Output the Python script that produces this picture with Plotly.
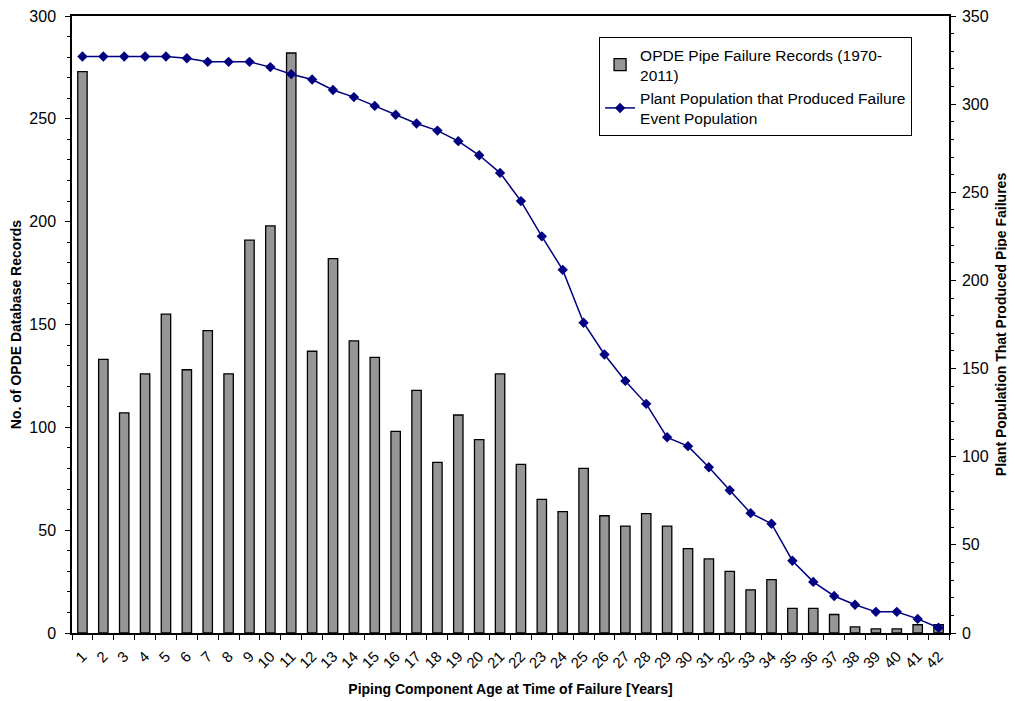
import plotly.graph_objects as go

ages = [str(i) for i in range(1, 43)]
failure_records = [273, 133, 107, 126, 155, 128, 147, 126, 191, 198,
                   282, 137, 182, 142, 134, 98, 118, 83, 106, 94,
                   126, 82, 65, 59, 80, 57, 52, 58, 52, 41,
                   36, 30, 21, 26, 12, 12, 9, 3, 2, 2,
                   4, 4]
plant_population = [327, 327, 327, 327, 327, 326, 324, 324, 324, 321,
                     317, 314, 308, 304, 299, 294, 289, 285, 279, 271,
                     261, 245, 225, 206, 176, 158, 143, 130, 111, 106,
                     94, 81, 68, 62, 41, 29, 21, 16, 12, 12,
                     8, 3]

FONT = "Liberation Sans, Arial, sans-serif"

fig = go.Figure()
fig.add_trace(go.Bar(
    x=ages, y=failure_records,
    name="OPDE Pipe Failure Records (1970-<br>2011)",
    marker=dict(color="#969696", line=dict(color="#000000", width=1.3)),
    width=0.45,
))
fig.add_trace(go.Scatter(
    x=ages, y=plant_population, yaxis="y2",
    name="Plant Population that Produced Failure<br>Event Population",
    mode="lines+markers",
    line=dict(color="#000080", width=1.5),
    marker=dict(symbol="diamond", size=8, color="#000080"),
))

# page body has an 8px margin, so the figure is offset by 8px
fig.update_layout(
    width=1007, height=693,
    margin=dict(l=64, r=66, t=8, b=68),
    paper_bgcolor="white", plot_bgcolor="white",
    font=dict(family=FONT, size=15, color="#000000"),
    showlegend=True,
    legend=dict(
        x=0.601, y=0.966, xanchor="left", yanchor="top",
        bgcolor="white", bordercolor="#000000", borderwidth=1,
        font=dict(family=FONT, size=15.5, color="#000000"),
        tracegroupgap=10,
    ),
    xaxis=dict(
        type="category",
        range=[-0.5, 41.5],
        automargin=False,
        tickangle=-45,
        tickson="boundaries",
        ticks="outside", ticklen=5, tickcolor="#000000",
        showline=True, linecolor="#000000", linewidth=1.5, mirror=True,
        showgrid=False, zeroline=False,
        ticklabelstandoff=7,
        tickfont=dict(family=FONT, size=15),
        title=dict(text="<b>Piping Component Age at Time of Failure [Years]</b>",
                   font=dict(family=FONT, size=14), standoff=14),
    ),
    yaxis=dict(
        range=[0, 300], dtick=50,
        automargin=False,
        ticklabeloverflow="allow",
        ticks="outside", ticklen=5, tickcolor="#000000",
        minor=dict(dtick=10, ticks="outside", ticklen=3, tickcolor="#000000"),
        showline=True, linecolor="#000000", linewidth=1.5,
        showgrid=False, zeroline=False,
        ticklabelstandoff=6,
        tickfont=dict(family=FONT, size=16),
        title=dict(text="<b>No. of OPDE Database Records</b>",
                   font=dict(family=FONT, size=14), standoff=4),
    ),
    yaxis2=dict(
        range=[0, 350], dtick=50,
        automargin=False,
        ticklabeloverflow="allow",
        overlaying="y", side="right",
        ticks="outside", ticklen=5, tickcolor="#000000",
        minor=dict(dtick=10, ticks="outside", ticklen=3, tickcolor="#000000"),
        showline=True, linecolor="#000000", linewidth=1.5,
        showgrid=False, zeroline=False,
        ticklabelstandoff=3,
        tickfont=dict(family=FONT, size=16),
        title=dict(text="<b>Plant Population That Produced Pipe Failures</b>",
                   font=dict(family=FONT, size=14), standoff=8),
    ),
)

fig.write_html("out.html")
